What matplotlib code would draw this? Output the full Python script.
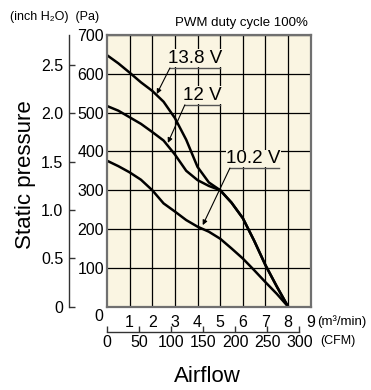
import matplotlib
matplotlib.use('Agg')
import matplotlib.pyplot as plt

# airflow (m3/min) vs static pressure (Pa)
x_138 = [0, 0.5, 1, 1.5, 2, 2.5, 3, 3.5, 4, 4.5, 5, 5.5, 6, 6.5, 7, 7.5, 8]
y_138 = [648, 627, 603, 578, 556, 528, 486, 430, 360, 320, 300, 268, 228, 170, 107, 52, 0]
x_12 = [0, 0.5, 1, 1.5, 2, 2.5, 3, 3.5, 4, 4.5, 5, 5.5, 6, 6.5, 7, 7.5, 8]
y_12 = [517, 505, 488, 471, 450, 428, 392, 350, 326, 311, 300, 268, 228, 170, 107, 52, 0]
x_102 = [0, 0.5, 1, 1.5, 2, 2.5, 3, 3.5, 4, 4.5, 5, 5.5, 6, 6.5, 7, 7.5, 8]
y_102 = [376, 362, 346, 327, 300, 266, 245, 223, 206, 193, 175, 150, 124, 94, 63, 33, 0]

pa_ticks = [100, 200, 300, 400, 500, 600, 700]
inch_ticks = [0, 0.5, 1.0, 1.5, 2.0, 2.5]
inch_labels = ['0', '0.5', '1.0', '1.5', '2.0', '2.5']
m3_ticks = [1, 2, 3, 4, 5, 6, 7, 8, 9]
cfm_ticks = [0, 50, 100, 150, 200, 250, 300]

PA_PER_INCH = 249.09
CFM_PER_M3 = 35.3147

cream = '#faf5e2'
plt.rcParams['font.family'] = ['Liberation Sans', 'DejaVu Sans']
TICK_FS = 11.5

fig = plt.figure(figsize=(3.71, 3.90), dpi=100)
L, B, W, H = 107 / 371, 1 - 306.6 / 390, (310.7 - 107) / 371, (306.6 - 35) / 390

ax = fig.add_axes([L, B, W, H])
ax.set_facecolor(cream)
ax.set_xlim(0, 9)
ax.set_ylim(0, 700)
ax.set_xticks(range(0, 10))
ax.set_yticks(range(0, 701, 100))
ax.grid(True, color='black', lw=0.9)
ax.set_axisbelow(True)
for s in ax.spines.values():
    s.set_color('#707070')
    s.set_linewidth(1.6)
ax.tick_params(length=0)
ax.set_xticks(m3_ticks)
ax.set_xticklabels([str(t) for t in m3_ticks], fontsize=TICK_FS)
ax.set_yticks(pa_ticks)
ax.set_yticklabels([str(t) for t in pa_ticks], fontsize=TICK_FS)
ax.tick_params(axis='x', pad=6)
ax.tick_params(axis='y', pad=2)
ax.grid(True, color='black', lw=0.9)
ax.text(-0.15, -6, '0', ha='right', va='top', fontsize=TICK_FS)
ax.text(9.3, -38, '(m³/min)', ha='left', va='center', fontsize=9.5, clip_on=False)

ax.plot(x_138, y_138, color='black', lw=1.8)
ax.plot(x_12, y_12, color='black', lw=1.8)
ax.plot(x_102, y_102, color='black', lw=1.8)

# voltage labels with underline + leader arrow
labels = [('13.8 V', 3.88, 618, 2.78, 5.0, 615, 2.2, 548),
          ('12 V', 4.21, 523, 3.44, 5.0, 520, 2.69, 422),
          ('10.2 V', 6.48, 360, 5.43, 7.59, 357, 4.23, 210)]
for txt, tx, ty, ux0, ux1, uy, ax_, ay_ in labels:
    ax.text(tx, ty, txt, ha='center', va='bottom', fontsize=13.5,
            bbox=dict(facecolor=cream, edgecolor='none', pad=0.3), zorder=4)
    ax.plot([ux0, ux1], [uy, uy], color='#555555', lw=1.0, zorder=4)
    ax.annotate('', xy=(ax_, ay_), xytext=(ux0, uy),
                arrowprops=dict(arrowstyle='-|>', color='black', lw=0.8,
                                mutation_scale=7, shrinkA=0, shrinkB=0), zorder=5)

# inch H2O axis
axi = fig.add_axes([69 / 371, B, 0.01, H])
axi.set_ylim(0, 700 / PA_PER_INCH)
axi.patch.set_visible(False)
for k in ['top', 'right', 'bottom']:
    axi.spines[k].set_visible(False)
axi.spines['left'].set_color('#333333')
axi.spines['left'].set_linewidth(1.0)
axi.set_xticks([])
axi.set_yticks(inch_ticks)
axi.set_yticklabels(inch_labels, fontsize=TICK_FS)
axi.tick_params(axis='y', direction='in', length=4, width=1.0, pad=4, color='#333333')

# CFM axis
axc = fig.add_axes([L, 1 - 332 / 390, W, 0.01])
axc.set_xlim(0, 9 * CFM_PER_M3)
axc.patch.set_visible(False)
for k in ['top', 'right', 'left']:
    axc.spines[k].set_visible(False)
axc.spines['bottom'].set_bounds(0, 300)
axc.spines['bottom'].set_color('#333333')
axc.spines['bottom'].set_linewidth(1.0)
axc.set_yticks([])
axc.set_xticks(cfm_ticks)
axc.set_xticklabels([str(t) for t in cfm_ticks], fontsize=TICK_FS)
axc.tick_params(axis='x', direction='in', length=4, width=1.0, pad=2, color='#333333')

fig.text(320 / 371, 1 - 341 / 390, '(CFM)', ha='left', va='center', fontsize=9)
fig.text(207 / 371, 1 - 376 / 390, 'Airflow', ha='center', va='center', fontsize=16)
fig.text(26 / 371, 1 - 175 / 390, 'Static pressure', ha='center', va='center',
         rotation=90, fontsize=16)
fig.text(10 / 371, 1 - 17 / 390, '(inch H₂O)  (Pa)', ha='left', va='center', fontsize=9)
fig.text(308 / 371, 1 - 23 / 390, 'PWM duty cycle 100%', ha='right', va='center', fontsize=9.5)

fig.savefig('out.png', dpi=100)
